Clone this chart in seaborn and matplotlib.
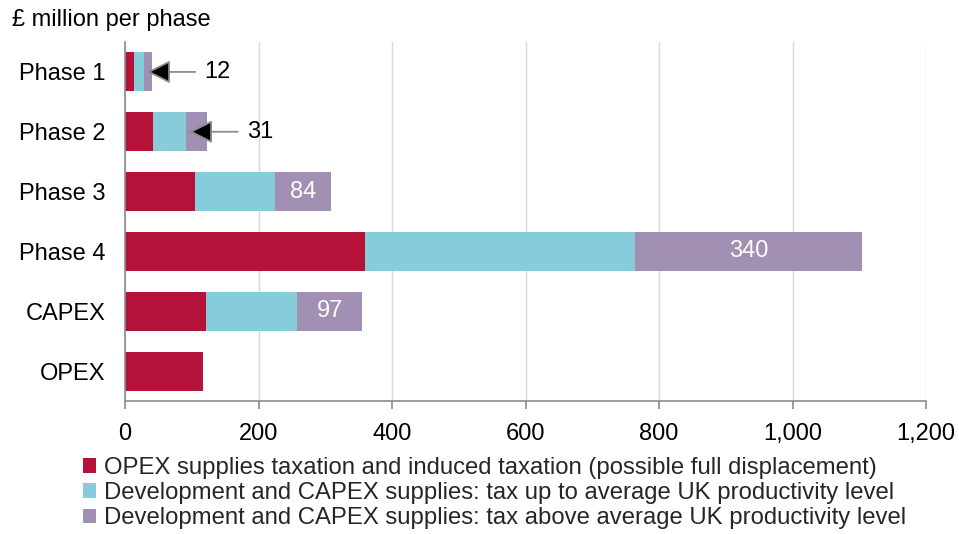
import matplotlib
matplotlib.use("Agg")
import matplotlib.pyplot as plt
import seaborn as sns
import numpy as np
import pandas as pd

# Tax revenue by phase, £ million
categories = ["Phase 1", "Phase 2", "Phase 3", "Phase 4", "CAPEX", "OPEX"]
opex_tax = [14, 42, 105, 360, 121, 117]
capex_up_to_avg = [14, 50, 120, 404, 137, 0]
capex_above_avg = [12, 31, 84, 340, 97, 0]
series_names = [
    "OPEX supplies taxation and induced taxation (possible full displacement)",
    "Development and CAPEX supplies: tax up to average UK productivity level",
    "Development and CAPEX supplies: tax above average UK productivity level",
]
x_ticks = [0, 200, 400, 600, 800, 1000, 1200]

RED = "#B5123A"
CYAN = "#86CCDB"
PURPLE = "#A190B4"

sns.set_theme(style="white")
plt.rcParams["font.family"] = ["Liberation Sans", "DejaVu Sans"]

df = pd.DataFrame({
    "cat": categories,
    "a": opex_tax,
    "b": capex_up_to_avg,
    "c": capex_above_avg,
})
df["ab"] = df["a"] + df["b"]
df["abc"] = df["ab"] + df["c"]

fig = plt.figure(figsize=(9.59, 5.34), dpi=100)
ax = fig.add_axes([125 / 959, 1 - 401 / 534, (926 - 125) / 959, (401 - 42) / 534])

# stacked bars: draw cumulative totals back to front
bw = 0.65
sns.barplot(data=df, x="abc", y="cat", orient="h", color=PURPLE, saturation=1,
            width=bw, ax=ax, linewidth=0, label=series_names[2], zorder=3)
sns.barplot(data=df, x="ab", y="cat", orient="h", color=CYAN, saturation=1,
            width=bw, ax=ax, linewidth=0, label=series_names[1], zorder=3)
sns.barplot(data=df, x="a", y="cat", orient="h", color=RED, saturation=1,
            width=bw, ax=ax, linewidth=0, label=series_names[0], zorder=3)
handles, labels = ax.get_legend_handles_labels()
if ax.get_legend() is not None:
    ax.get_legend().remove()

ax.set_xlim(0, 1200)
ax.set_ylim(len(categories) - 0.5, -0.5)
ax.set_xticks(x_ticks)
ax.set_xticklabels([f"{v:,}" for v in x_ticks])
ax.set_xlabel("")
ax.set_ylabel("")

ax.grid(axis="x", color="#D9D9D9", linewidth=1, zorder=0)
ax.grid(axis="y", visible=False)
for s in ["top", "right"]:
    ax.spines[s].set_visible(False)
for s in ["left", "bottom"]:
    ax.spines[s].set_color("#8C8C8C")
    ax.spines[s].set_linewidth(1.2)
ax.spines["left"].set_zorder(4)

ax.tick_params(axis="x", which="major", bottom=True, length=6, width=1.2,
               color="#8C8C8C", labelsize=17, pad=10, labelcolor="black")
ax.tick_params(axis="y", left=False, length=0, labelsize=17, pad=14,
               labelcolor="black")

# value labels inside the bars
for i in (2, 3, 4):
    v = capex_above_avg[i]
    ax.text(df["ab"][i] + v / 2, i, f"{v}", color="white", fontsize=17,
            ha="center", va="center", zorder=5)

# call-out arrows for the small segments
callouts = [(0, 33, 105), (1, 96, 169)]
for i, tip, tail in callouts:
    ax.annotate("", xy=(tip, i), xytext=(tail, i),
                arrowprops=dict(arrowstyle="-|>,head_length=1.2,head_width=0.6",
                                fc="black", ec="#8C8C8C", lw=1.3,
                                shrinkA=0, shrinkB=0), zorder=6)
    ax.text(tail + 14, i, f"{capex_above_avg[i]}", fontsize=17,
            ha="left", va="center", color="black", zorder=6)

fig.text(12 / 959, 1 - 20 / 534, "£ million per phase", fontsize=17,
         ha="left", va="center", color="black")

order = [labels.index(n) for n in series_names]
fig.legend([handles[k] for k in order], [labels[k] for k in order],
           loc="upper left", bbox_to_anchor=(83 / 959, 1 - 457 / 534),
           frameon=False, fontsize=17.2, handlelength=0.55, handleheight=0.55,
           handletextpad=0.35, labelspacing=0.13, borderaxespad=0,
           borderpad=0)

fig.savefig("out.png", dpi=100)
